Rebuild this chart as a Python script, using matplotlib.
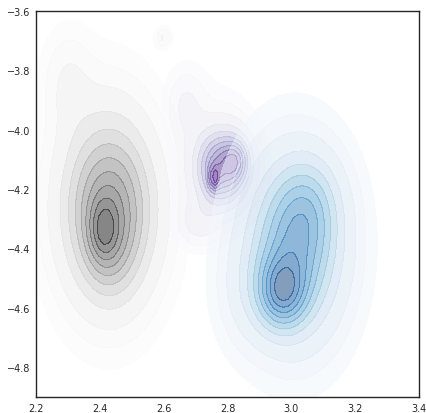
import numpy as np
import matplotlib.pyplot as plt
from matplotlib.colors import Normalize

# density blobs: centre x, centre y, spread x, spread y, weight
grey_cx = [2.43, 2.41, 2.30, 2.60, 2.43, 2.40]
grey_cy = [-4.27, -4.34, -3.84, -3.69, -4.40, -4.15]
grey_sx = [0.095, 0.030, 0.050, 0.016, 0.050, 0.12]
grey_sy = [0.200, 0.070, 0.110, 0.022, 0.110, 0.26]
grey_w = [0.75, 0.25, 0.10, 0.12, 0.15, 0.035]

purple_cx = [2.785, 2.757, 2.830, 2.670, 2.710, 2.76]
purple_cy = [-4.130, -4.165, -4.100, -3.920, -4.310, -4.08]
purple_sx = [0.055, 0.011, 0.025, 0.040, 0.045, 0.08]
purple_sy = [0.085, 0.028, 0.045, 0.080, 0.055, 0.15]
purple_w = [0.70, 0.35, 0.28, 0.10, 0.12, 0.05]

blue_cx = [3.01, 2.97, 3.06, 2.86, 3.00]
blue_cy = [-4.40, -4.55, -4.25, -4.55, -4.38]
blue_sx = [0.095, 0.050, 0.065, 0.060, 0.13]
blue_sy = [0.190, 0.080, 0.110, 0.120, 0.26]
blue_w = [0.62, 0.50, 0.18, 0.08, 0.035]

groups = [
    (grey_cx, grey_cy, grey_sx, grey_sy, grey_w, 'Greys'),
    (purple_cx, purple_cy, purple_sx, purple_sy, purple_w, 'Purples'),
    (blue_cx, blue_cy, blue_sx, blue_sy, blue_w, 'Blues'),
]

# coarse grid, like a kde evaluated on a small mesh
xx, yy = np.meshgrid(np.linspace(2.2, 3.4, 80), np.linspace(-4.9, -3.6, 80))


def density(cx, cy, sx, sy, w):
    z = np.zeros_like(xx)
    for a, b, c, d, e in zip(cx, cy, sx, sy, w):
        z += e * np.exp(-0.5 * (((xx - a) / c) ** 2 + ((yy - b) / d) ** 2))
    return z / z.max()


fig = plt.figure(figsize=(4.26, 4.14), dpi=100)
ax = fig.add_axes([0.0845, 0.0386, 0.899, 0.933])

levels = np.concatenate([[0.02, 0.05], np.linspace(0.1, 1.0, 10)])
for cx, cy, sx, sy, w, cmap in groups:
    z = density(cx, cy, sx, sy, w)
    ax.contourf(xx, yy, z, levels=levels, cmap=cmap, norm=Normalize(0, 1), alpha=0.5)
    ax.contour(xx, yy, z, levels=levels[5:], cmap=cmap, norm=Normalize(0, 1),
               alpha=0.2, linewidths=0.5)

ax.set_xlim(2.2, 3.4)
ax.set_ylim(-4.9, -3.6)
ax.set_xticks(np.arange(2.2, 3.41, 0.2))
ax.set_yticks(np.arange(-4.8, -3.59, 0.2))
ax.tick_params(length=0, labelsize=7, colors='.15', pad=4)
for s in ax.spines.values():
    s.set_color('.15')
    s.set_linewidth(1.0)

fig.savefig('out.png', dpi=100)
